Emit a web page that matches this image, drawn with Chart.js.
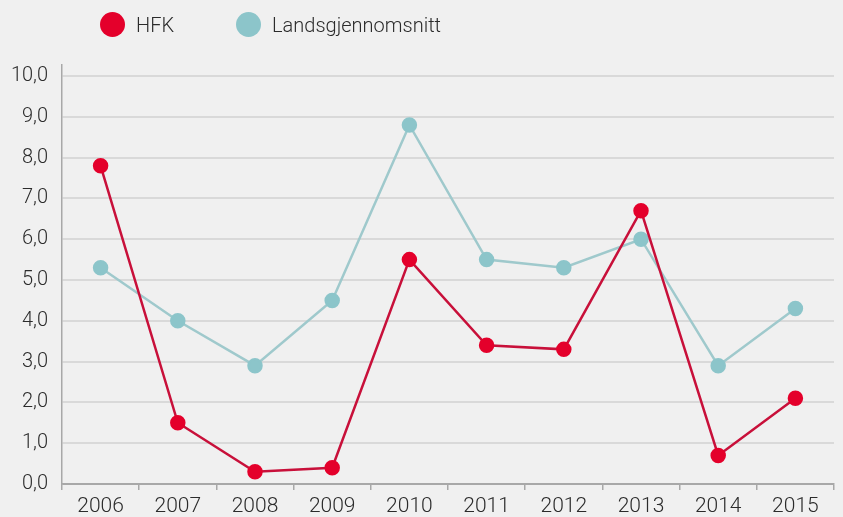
<!DOCTYPE html>
<html>
<head>
<meta charset="utf-8">
<script src="https://cdn.jsdelivr.net/npm/chart.js@4"></script>
<style>
  html, body { margin: 0; padding: 0; background: #f0f0f0; }
  #wrap { position: relative; width: 843px; height: 517px; }
  #legend { position: absolute; left: 100px; top: 12px; display: flex; font-family: Roboto, sans-serif; font-weight: 300; font-size: 20px; color: #2b2b2b; }
  #legend .item { display: flex; align-items: center; margin-right: 62px; }
  #legend .dot { width: 25px; height: 25px; border-radius: 50%; margin-right: 11px; }
</style>
</head>
<body>
<div id="wrap">
  <canvas id="chart" width="843" height="517"></canvas>
  <div id="legend"></div>
</div>
<script>
var years = ['2006', '2007', '2008', '2009', '2010', '2011', '2012', '2013', '2014', '2015'];
var hfk = [7.8, 1.5, 0.3, 0.4, 5.5, 3.4, 3.3, 6.7, 0.7, 2.1];
var landsgjennomsnitt = [5.3, 4.0, 2.9, 4.5, 8.8, 5.5, 5.3, 6.0, 2.9, 4.3];
var yTicks = [0, 1, 2, 3, 4, 5, 6, 7, 8, 9, 10];

var chart = new Chart(document.getElementById('chart'), {
    type: 'line',
    data: {
        labels: years,
        datasets: [{
            label: 'HFK',
            data: hfk,
            borderColor: '#c8103a',
            backgroundColor: '#e4002b',
            pointBackgroundColor: '#e4002b',
            pointBorderColor: '#e4002b',
            borderWidth: 2.5,
            pointRadius: 6.5,
            pointHoverRadius: 6.5
        }, {
            label: 'Landsgjennomsnitt',
            data: landsgjennomsnitt,
            borderColor: '#9fc9cc',
            backgroundColor: '#8cc5ca',
            pointBackgroundColor: '#8cc5ca',
            pointBorderColor: '#8cc5ca',
            borderWidth: 2.5,
            pointRadius: 6.5,
            pointHoverRadius: 6.5
        }]
    },
    options: {
        responsive: false,
        animation: false,
        layout: { padding: { top: 65, right: 8, left: 0, bottom: 0 } },
        plugins: {
            legend: { display: false },
            tooltip: { enabled: false }
        },
        scales: {
            x: {
                offset: true,
                afterFit: function (scale) { scale.height = 33; },
                grid: {
                    offset: true,
                    drawOnChartArea: false,
                    drawTicks: true,
                    tickLength: 6,
                    color: '#a8a8a8',
                    lineWidth: 1.5
                },
                border: { color: '#a8a8a8', width: 1.5 },
                ticks: {
                    padding: 4,
                    color: '#2b2b2b',
                    font: { family: 'Roboto', size: 21, weight: '300' }
                }
            },
            y: {
                min: 0,
                max: 10.27,
                afterFit: function (scale) { scale.width = 62; },
                afterBuildTicks: function (scale) {
                    scale.ticks = yTicks.map(function (v) { return { value: v }; });
                },
                grid: {
                    drawTicks: false,
                    color: function (ctx) { return ctx.tick && ctx.tick.value === 0 ? '#a8a8a8' : '#d9d9d9'; },
                    lineWidth: 2
                },
                border: { color: '#a8a8a8', width: 1.5 },
                ticks: {
                    padding: 14,
                    color: '#2b2b2b',
                    font: { family: 'Roboto', size: 20, weight: '300' },
                    callback: function (v) { return v.toFixed(1).replace('.', ','); }
                }
            }
        }
    }
});

var legend = document.getElementById('legend');
chart.data.datasets.forEach(function (ds) {
    var item = document.createElement('div');
    item.className = 'item';
    var dot = document.createElement('span');
    dot.className = 'dot';
    dot.style.background = ds.pointBackgroundColor;
    var txt = document.createElement('span');
    txt.textContent = ds.label;
    item.appendChild(dot);
    item.appendChild(txt);
    legend.appendChild(item);
});
</script>
</body>
</html>
